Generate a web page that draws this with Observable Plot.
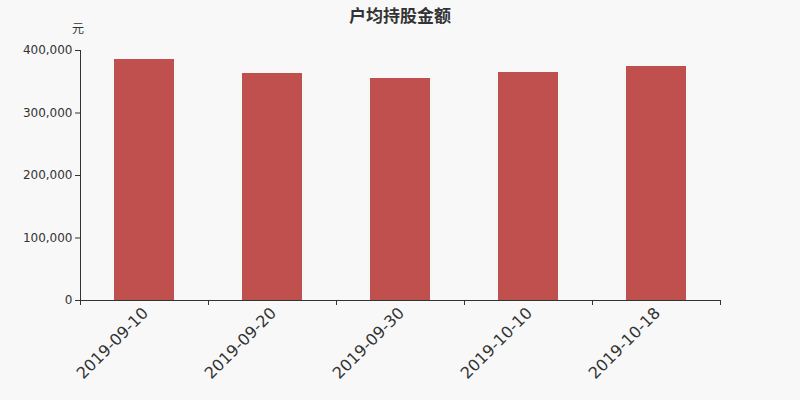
<!DOCTYPE html>
<html><head><meta charset="utf-8">
<script src="https://cdn.jsdelivr.net/npm/d3@7"></script>
<script src="https://cdn.jsdelivr.net/npm/@observablehq/plot@0.6"></script>
<style>
html,body{margin:0;padding:0;background:#f8f8f8;}
#wrap{position:relative;width:800px;height:400px;font-family:"DejaVu Sans","Noto Sans CJK SC",sans-serif;}
#title{position:absolute;left:0;top:2px;width:800px;text-align:center;font-size:17px;font-weight:bold;color:#333;font-family:"Noto Sans CJK SC",sans-serif;}
#unit{position:absolute;left:72px;top:19px;font-size:12px;color:#333;font-family:"Noto Sans CJK SC",sans-serif;}
</style></head>
<body><div id="wrap"><div id="title">户均持股金额</div><div id="unit">元</div></div>
<script>
const dates = ["2019-09-10","2019-09-20","2019-09-30","2019-10-10","2019-10-18"];
const values = [385600, 363200, 355200, 364800, 374400];
const yTicks = [0, 100000, 200000, 300000, 400000];

const data = dates.map((d, i) => ({date: d, value: values[i]}));
const fmt = d3.format(",");

const chart = Plot.plot({
  width: 800, height: 400,
  marginLeft: 80, marginRight: 80, marginTop: 50, marginBottom: 100,
  style: {background: "transparent", fontFamily: "DejaVu Sans, sans-serif", color: "#333"},
  x: {domain: dates, paddingInner: 0.53125, paddingOuter: 0.265625, axis: null},
  y: {domain: [0, 400000], axis: null},
  marks: [
    Plot.barY(data, {x: "date", y: "value", fill: "#c0504d"}),
    Plot.frame({anchor: "left", stroke: "#333"}),
    Plot.frame({anchor: "bottom", stroke: "#333"}),
    Plot.axisY({ticks: yTicks, tickFormat: fmt, tickSize: 5, tickPadding: 3, fontSize: 12, stroke: "#333", fill: "#333", label: null}),
    Plot.ruleX(dates, {x: d => d, y1: 0, y2: 0, insetBottom: -5, dx: -64, stroke: "#333"}),
    Plot.ruleX([dates[dates.length - 1]], {x: d => d, y1: 0, y2: 0, insetBottom: -5, dx: 64, stroke: "#333"}),
    Plot.text(dates, {x: d => d, y: 0, text: d => d, rotate: -45, textAnchor: "end", lineAnchor: "middle", dy: 10, dx: 1, fontSize: 16, fill: "#333"})
  ]
});
document.getElementById("wrap").appendChild(chart);
chart.style.position = "absolute";
chart.style.left = "0px";
chart.style.top = "0px";
</script>
</body></html>
